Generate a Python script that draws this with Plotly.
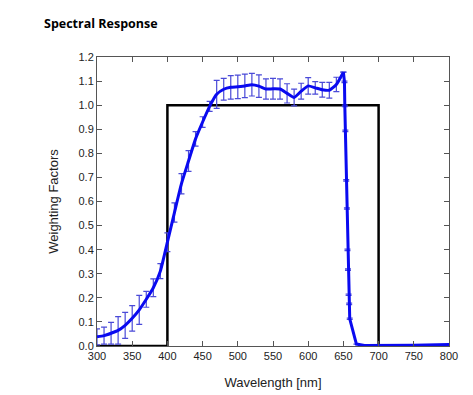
import plotly.graph_objects as go

# Measured response, 10 nm steps (300-650 nm)
wl_main = [300, 310, 320, 330, 340, 350, 360, 370, 380, 390, 400, 410, 420, 430, 440,
           450, 460, 470, 480, 490, 500, 510, 520, 530, 540, 550, 560, 570, 580, 590,
           600, 610, 620, 630, 640, 650]
resp_main = [0.038, 0.043, 0.053, 0.065, 0.086, 0.115, 0.150, 0.194, 0.242, 0.311,
             0.431, 0.554, 0.674, 0.768, 0.860, 0.930, 0.995, 1.045, 1.066, 1.074,
             1.076, 1.080, 1.085, 1.079, 1.067, 1.068, 1.067, 1.049, 1.032, 1.058,
             1.080, 1.072, 1.064, 1.062, 1.086, 1.137]
err_main = [0.033, 0.035, 0.045, 0.057, 0.054, 0.053, 0.060, 0.033, 0.037, 0.031,
            0.039, 0.040, 0.042, 0.043, 0.030, 0.022, 0.021, 0.058, 0.045, 0.049,
            0.049, 0.049, 0.047, 0.047, 0.042, 0.043, 0.042, 0.040, 0.035, 0.033,
            0.034, 0.026, 0.031, 0.033, 0.030, 0.0]

# Steep cut-off and tail (650-800 nm)
wl_drop = [650, 651.5, 652, 652.8, 654, 655, 655.8, 656.5, 657.4, 658.2, 659,
           668.5, 680, 750, 800]
resp_drop = [1.137, 1.097, 0.997, 0.893, 0.688, 0.571, 0.399, 0.317, 0.213, 0.175,
             0.113, 0.008, 0.002, 0.003, 0.006]
err_drop = [0.0, 0.003, 0.003, 0.003, 0.003, 0.003, 0.003, 0.003, 0.003, 0.003,
            0.003, 0.0, 0.0, 0.0, 0.0]

# Ideal weighting (box filter)
wl_box = [300, 400, 400, 700, 700, 800]
box_val = [0, 0, 1, 1, 0, 0]

x_ticks = [300, 350, 400, 450, 500, 550, 600, 650, 700, 750, 800]
y_ticks = [0.0, 0.1, 0.2, 0.3, 0.4, 0.5, 0.6, 0.7, 0.8, 0.9, 1.0, 1.1, 1.2]

BLUE = "#0a0af0"
ERR = "#4a4ad8"
FONT = "Liberation Sans, Arial, sans-serif"

fig = go.Figure()
fig.add_trace(go.Scatter(x=wl_box, y=box_val, mode="lines",
                         line=dict(color="black", width=2.5), hoverinfo="skip"))
fig.add_trace(go.Scatter(x=wl_main, y=resp_main, mode="lines",
                         line=dict(color=BLUE, width=3, shape="spline", smoothing=0.5),
                         error_y=dict(type="data", array=err_main, visible=True,
                                      color=ERR, thickness=1.2, width=3)))
fig.add_trace(go.Scatter(x=wl_drop, y=resp_drop, mode="lines",
                         line=dict(color=BLUE, width=3),
                         error_y=dict(type="data", array=err_drop, visible=True,
                                      color=ERR, thickness=1.2, width=3)))

axis_common = dict(showline=True, linecolor="#555555", linewidth=1, mirror="ticks",
                   ticks="inside", ticklen=5, tickcolor="#555555", showgrid=False,
                   zeroline=False, automargin=False,
                   tickfont=dict(family=FONT, size=11, color="#222222"))

fig.update_xaxes(range=[300, 800], tickvals=x_ticks, **axis_common,
                 title=dict(text="Wavelength [nm]", standoff=16,
                            font=dict(family=FONT, size=13, color="#222222")))
fig.update_yaxes(range=[0, 1.2], tickvals=y_ticks, tickformat=".1f", **axis_common,
                 title=dict(text="Weighting Factors", standoff=16,
                            font=dict(family=FONT, size=13, color="#222222")))

fig.update_layout(
    width=465, height=387,
    margin=dict(l=89, r=24, t=49, b=49),
    paper_bgcolor="white", plot_bgcolor="white",
    showlegend=False,
    annotations=[dict(text="<b>Spectral Response</b>", xref="paper", yref="paper",
                      x=-55 / 352, y=1.115, xanchor="left", yanchor="middle",
                      showarrow=False,
                      font=dict(family="Open Sans, sans-serif", size=12.5, color="black"))],
)

fig.write_html("out.html")
